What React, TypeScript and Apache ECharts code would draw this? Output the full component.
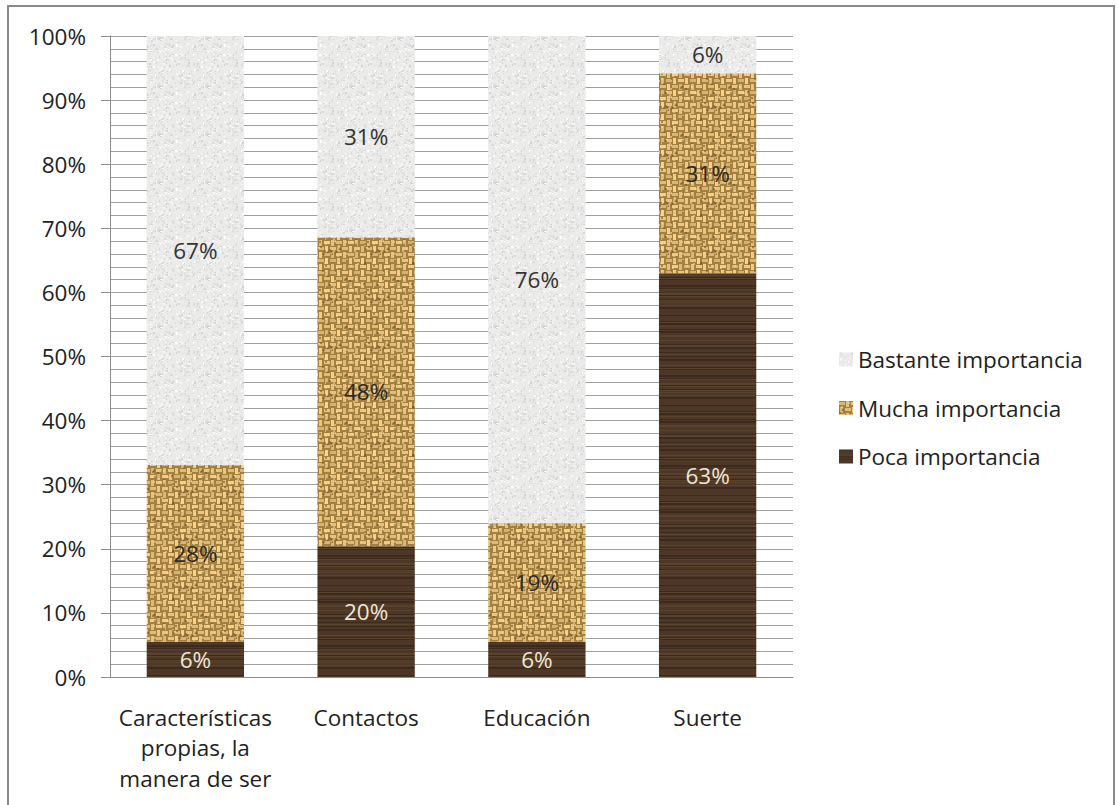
import React, { useEffect, useRef } from "react";
import * as echarts from "echarts";

const categories = [
  "Características\npropias, la\nmanera de ser",
  "Contactos",
  "Educación",
  "Suerte",
];
const pocaValues = [5.5, 20.4, 5.5, 63.0];
const muchaValues = [27.6, 48.2, 18.5, 31.2];
const bastanteValues = [66.9, 31.4, 76.0, 5.8];
const yTicks = [0, 10, 20, 30, 40, 50, 60, 70, 80, 90, 100];

function rng(seed: number) {
  let s = seed >>> 0;
  return () => {
    s = (s * 1664525 + 1013904223) >>> 0;
    return s / 4294967296;
  };
}

function makeTexture(kind: "gray" | "burlap" | "wood") {
  const w = kind === "wood" ? 120 : 48;
  const h = kind === "wood" ? 90 : 48;
  const c = document.createElement("canvas");
  c.width = w;
  c.height = h;
  const ctx = c.getContext("2d")!;
  const r = rng(kind === "gray" ? 7 : kind === "burlap" ? 13 : 29);
  if (kind === "gray") {
    ctx.fillStyle = "#ebebea";
    ctx.fillRect(0, 0, w, h);
    for (let i = 0; i < 450; i++) {
      const v = Math.floor(210 + r() * 45);
      ctx.fillStyle = `rgb(${v},${v},${v})`;
      ctx.fillRect(Math.floor(r() * w), Math.floor(r() * h), 1 + Math.floor(r() * 2), 1 + Math.floor(r() * 2));
    }
  } else if (kind === "burlap") {
    ctx.fillStyle = "#a4803f";
    ctx.fillRect(0, 0, w, h);
    const cell = 6;
    for (let y = 0; y < h; y += cell) {
      for (let x = 0; x < w; x += cell) {
        const hor = ((x / cell + y / cell) % 2) === 0;
        const light = 210 + Math.floor(r() * 40);
        ctx.fillStyle = `rgb(${light},${Math.floor(light * 0.84)},${Math.floor(light * 0.56)})`;
        if (hor) ctx.fillRect(x, y + 1, cell, cell - 3);
        else ctx.fillRect(x + 1, y, cell - 3, cell);
      }
    }
    for (let i = 0; i < 60; i++) {
      ctx.fillStyle = r() > 0.5 ? "rgba(110,78,36,0.5)" : "rgba(245,225,170,0.5)";
      ctx.fillRect(Math.floor(r() * w), Math.floor(r() * h), 2, 2);
    }
  } else {
    ctx.fillStyle = "#4e3726";
    ctx.fillRect(0, 0, w, h);
    for (let y = 0; y < h; y++) {
      const t = r();
      if (t < 0.25) {
        ctx.fillStyle = "rgba(30,20,12,0.35)";
        ctx.fillRect(0, y, w, 1);
      } else if (t < 0.45) {
        ctx.fillStyle = "rgba(120,95,60,0.3)";
        ctx.fillRect(0, y, w, 1);
      }
    }
  }
  return { image: c.toDataURL(), w, h };
}

export default function App() {
  const ref = useRef<HTMLDivElement>(null);
  useEffect(() => {
    if (!ref.current) return;
    const chart = echarts.init(ref.current, null, { renderer: "svg" });
    const tg = makeTexture("gray");
    const tb = makeTexture("burlap");
    const tw = makeTexture("wood");
    const pat = (t: { image: string; w: number; h: number }) =>
      ({ image: t.image, repeat: "repeat", imageWidth: t.w, imageHeight: t.h } as any);
    const font = "'Open Sans', sans-serif";
    const fs = 22.5;
    const labelBase = {
      show: true,
      position: "inside",
      fontSize: fs,
      fontFamily: font,
      formatter: (p: any) => Math.round(p.value) + "%",
    };
    chart.setOption({
      animation: false,
      backgroundColor: "#ffffff",
      textStyle: { fontFamily: font },
      graphic: [
        {
          type: "rect",
          shape: { x: 8, y: 6, width: 1106, height: 830 },
          style: { fill: "none", stroke: "#8a8a8a", lineWidth: 2 },
          silent: true,
        },
      ],
      grid: { left: 110, right: 325, top: 36, bottom: 128 },
      legend: {
        orient: "vertical",
        left: 834,
        top: 343,
        itemWidth: 14,
        itemHeight: 14,
        itemGap: 25.5,
        data: ["Bastante importancia", "Mucha importancia", "Poca importancia"],
        textStyle: { fontSize: fs, color: "#222", fontFamily: font },
        icon: "rect",
      },
      xAxis: {
        type: "category",
        data: categories,
        axisLine: { lineStyle: { color: "#8c8c8c", width: 1 } },
        axisTick: { show: false },
        axisLabel: {
          interval: 0,
          fontSize: fs,
          lineHeight: 30.5,
          color: "#222",
          margin: 25,
          fontFamily: font,
        },
      },
      yAxis: {
        type: "value",
        min: yTicks[0],
        max: yTicks[yTicks.length - 1],
        interval: 10,
        axisLine: { show: true, lineStyle: { color: "#8c8c8c", width: 1 } },
        axisTick: { show: true, length: 9, lineStyle: { color: "#8c8c8c" } },
        axisLabel: {
          formatter: (v: number) => v + "%",
          fontSize: fs,
          color: "#222",
          margin: 24,
          fontFamily: font,
        },
        splitLine: { show: true, lineStyle: { color: "#a0a0a0", width: 1 } },
        minorTick: { show: false, splitNumber: 5 },
        minorSplitLine: { show: true, lineStyle: { color: "#a0a0a0", width: 1 } },
      },
      series: [
        {
          name: "Poca importancia",
          type: "bar",
          stack: "s",
          barWidth: "57%",
          data: pocaValues,
          itemStyle: { color: pat(tw) },
          label: { ...labelBase, color: "#efe6d6" },
        },
        {
          name: "Mucha importancia",
          type: "bar",
          stack: "s",
          data: muchaValues,
          itemStyle: { color: pat(tb) },
          label: { ...labelBase, color: "#2a2a2a" },
        },
        {
          name: "Bastante importancia",
          type: "bar",
          stack: "s",
          data: bastanteValues,
          itemStyle: { color: pat(tg) },
          label: { ...labelBase, color: "#333" },
        },
      ],
    });
    return () => chart.dispose();
  }, []);
  return (
    <div
      ref={ref}
      style={{ position: "absolute", left: 0, top: 0, width: 1118, height: 805 }}
    />
  );
}
